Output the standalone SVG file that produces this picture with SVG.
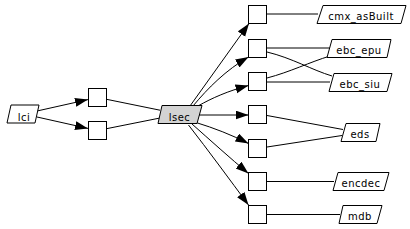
<svg xmlns="http://www.w3.org/2000/svg" width="410" height="229" viewBox="0 0 410 229">
<style>
.n{fill:#fff;stroke:#000;stroke-width:1}
.g{fill:#d3d3d3;stroke:#000;stroke-width:1}
.t{font-family:"DejaVu Sans",sans-serif;font-size:10px;letter-spacing:0.5px;text-anchor:middle;fill:#000}
.e{fill:none;stroke:#000;stroke-width:1}
.a{marker-end:url(#arr)}
</style>
<defs>
<marker id="arr" markerUnits="userSpaceOnUse" markerWidth="14" markerHeight="10" refX="13" refY="4.5" orient="auto">
<path d="M0,0 L13,4.5 L0,9 z" fill="#000"/>
</marker>
</defs>
<g id="connectors">
<path class="e a" d="M37,111 L88,99.6"/>
<path class="e a" d="M37,117 L88,128.4"/>
<path class="e" d="M107,99.4 L160,110.2"/>
<path class="e" d="M107,128.6 L160,118"/>
<path class="e a" d="M190,106 L249,23.5"/>
<path class="e a" d="M193,106 C208,88 226,70 248.5,57"/>
<path class="e a" d="M198,106 C212,98 228,91 248.5,85.5"/>
<path class="e a" d="M196,115 L248.5,115"/>
<path class="e a" d="M196,122.5 C214,128 232,135 248.5,143.5"/>
<path class="e a" d="M192,124 C210,140 230,158 248.5,173.5"/>
<path class="e a" d="M188.5,125 C208,150 230,180 248.5,205"/>
<path class="e" d="M267,14 L318,14"/>
<path class="e" d="M267,48 L331,48"/>
<path class="e" d="M267,52 C292,58 312,70 332,76"/>
<path class="e" d="M267,82 L330,82"/>
<path class="e" d="M267,78 C290,72 310,62 330,56"/>
<path class="e" d="M267,115.5 L343,129.5"/>
<path class="e" d="M267,147 L342,135.5"/>
<path class="e" d="M267,181.5 L334,181.5"/>
<path class="e" d="M267,214.5 L340,214.5"/>
</g>
<g id="lci"><polygon class="n" points="11,105 39,105 35,123 7,123"/><text class="t" x="24" y="120.5">lci</text></g>
<g id="box_a"><rect class="n" x="88.5" y="88.5" width="18" height="18"/></g>
<g id="box_b"><rect class="n" x="88.5" y="121.5" width="18" height="18"/></g>
<g id="lsec"><polygon class="g" points="162,105.5 202,105.5 197,123.5 158,123.5"/><text class="t" x="179.5" y="120.5">lsec</text></g>
<g id="box_1"><rect class="n" x="248.5" y="5.5" width="18" height="18"/></g>
<g id="box_2"><rect class="n" x="248.5" y="39.5" width="18" height="18"/></g>
<g id="box_3"><rect class="n" x="248.5" y="72.5" width="18" height="18"/></g>
<g id="box_4"><rect class="n" x="248.5" y="105.5" width="18" height="18"/></g>
<g id="box_5"><rect class="n" x="248.5" y="139.5" width="18" height="18"/></g>
<g id="box_6"><rect class="n" x="248.5" y="172.5" width="18" height="18"/></g>
<g id="box_7"><rect class="n" x="248.5" y="205.5" width="18" height="18"/></g>
<g id="cmx_asBuilt"><polygon class="n" points="323,5.5 406,5.5 401,23.5 317,23.5"/><text class="t" x="361" y="20">cmx_asBuilt</text></g>
<g id="ebc_epu"><polygon class="n" points="332,39.5 391,39.5 387,57.5 327,57.5"/><text class="t" x="359" y="53.5">ebc_epu</text></g>
<g id="ebc_siu"><polygon class="n" points="334,73.5 392,73.5 387,91.5 329,91.5"/><text class="t" x="360" y="87.5">ebc_siu</text></g>
<g id="eds"><polygon class="n" points="346,123.5 380,123.5 376,141.5 341,141.5"/><text class="t" x="360" y="137.5">eds</text></g>
<g id="encdec"><polygon class="n" points="338,172.5 389,172.5 384,190.5 333,190.5"/><text class="t" x="361" y="186.5">encdec</text></g>
<g id="mdb"><polygon class="n" points="343,205.5 382,205.5 377,223.5 339,223.5"/><text class="t" x="360" y="219.5">mdb</text></g>
</svg>
